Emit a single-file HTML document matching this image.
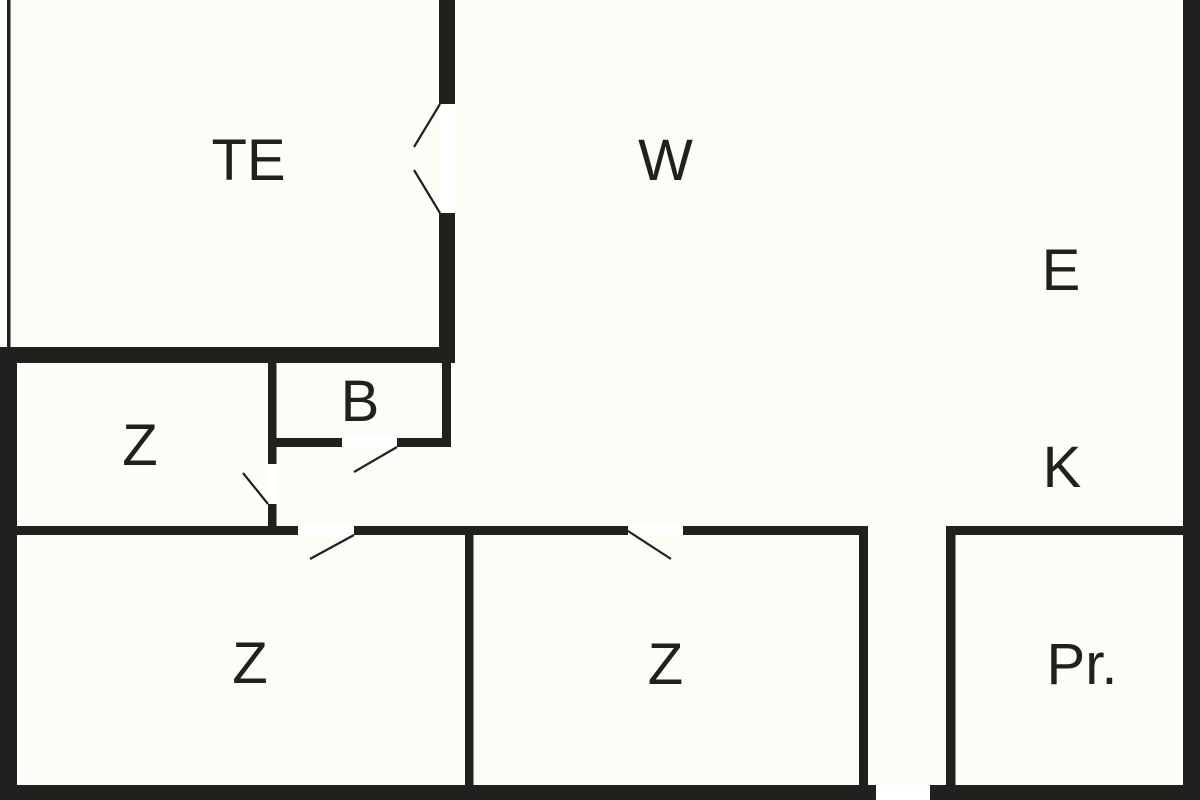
<!DOCTYPE html>
<html>
<head>
<meta charset="utf-8">
<style>
  html, body { margin: 0; padding: 0; background: #fdfdf8; }
  svg { display: block; }
  text { font-family: "Liberation Sans", sans-serif; font-size: 58px; fill: #221f1f; }
</style>
</head>
<body>
<svg width="1200" height="800" viewBox="0 0 1200 800" xmlns="http://www.w3.org/2000/svg">
  <rect x="0" y="0" width="1200" height="800" fill="#fdfdf8"/>
  <g fill="#221f1f">
    <!-- thin left line -->
    <rect x="7" y="0" width="3.5" height="348"/>
    <!-- top horizontal -->
    <rect x="0" y="347" width="455" height="16"/>
    <!-- TE right wall -->
    <rect x="439" y="0" width="16" height="104"/>
    <rect x="439" y="213" width="16" height="150"/>
    <!-- left outer wall -->
    <rect x="0" y="347" width="17" height="453"/>
    <!-- Z/B wall -->
    <rect x="268" y="363" width="8.5" height="101"/>
    <rect x="268" y="504" width="8.5" height="31"/>
    <!-- B right wall -->
    <rect x="442" y="363" width="9" height="84"/>
    <!-- B bottom -->
    <rect x="268" y="438" width="74" height="9"/>
    <rect x="397" y="438" width="54" height="9"/>
    <!-- middle horizontal -->
    <rect x="17" y="526" width="281" height="9"/>
    <rect x="354" y="526" width="274" height="9"/>
    <rect x="683" y="526" width="185" height="9"/>
    <!-- vertical walls -->
    <rect x="465" y="535" width="8.5" height="265"/>
    <rect x="859" y="526" width="9" height="274"/>
    <rect x="946" y="526" width="9.5" height="274"/>
    <!-- right horizontal -->
    <rect x="946" y="526" width="254" height="9"/>
    <!-- right outer wall -->
    <rect x="1183" y="0" width="17" height="800"/>
    <!-- bottom wall -->
    <rect x="0" y="785" width="876" height="15"/>
    <rect x="930" y="785" width="270" height="15"/>
  </g>
  <!-- door gaps (whiter) -->
  <g fill="#ffffff">
    <rect x="439" y="104" width="16" height="109"/>
    <rect x="268" y="464" width="8.5" height="40"/>
    <rect x="342" y="438" width="55" height="9"/>
    <rect x="298" y="526" width="56" height="9"/>
    <rect x="628" y="526" width="55" height="9"/>
    <rect x="876" y="785" width="54" height="15"/>
  </g>
  <!-- door swing lines -->
  <g stroke="#221f1f" stroke-width="2.2" fill="none">
    <line x1="440" y1="104" x2="414" y2="147"/>
    <line x1="414" y1="170" x2="440" y2="213"/>
    <line x1="268" y1="504" x2="243" y2="473"/>
    <line x1="397" y1="447" x2="354" y2="472"/>
    <line x1="354" y1="535" x2="310" y2="559"/>
    <line x1="628" y1="531" x2="671" y2="559"/>
  </g>
  <!-- labels -->
  <text x="248.5" y="180" text-anchor="middle">TE</text>
  <text x="665.5" y="180" text-anchor="middle">W</text>
  <text x="1061" y="290" text-anchor="middle">E</text>
  <text x="1062" y="487" text-anchor="middle">K</text>
  <text x="360" y="421" text-anchor="middle">B</text>
  <text x="140" y="465" text-anchor="middle">Z</text>
  <text x="250" y="683" text-anchor="middle">Z</text>
  <text x="665.5" y="684" text-anchor="middle">Z</text>
  <text x="1082" y="684" text-anchor="middle">Pr.</text>
</svg>
</body>
</html>
